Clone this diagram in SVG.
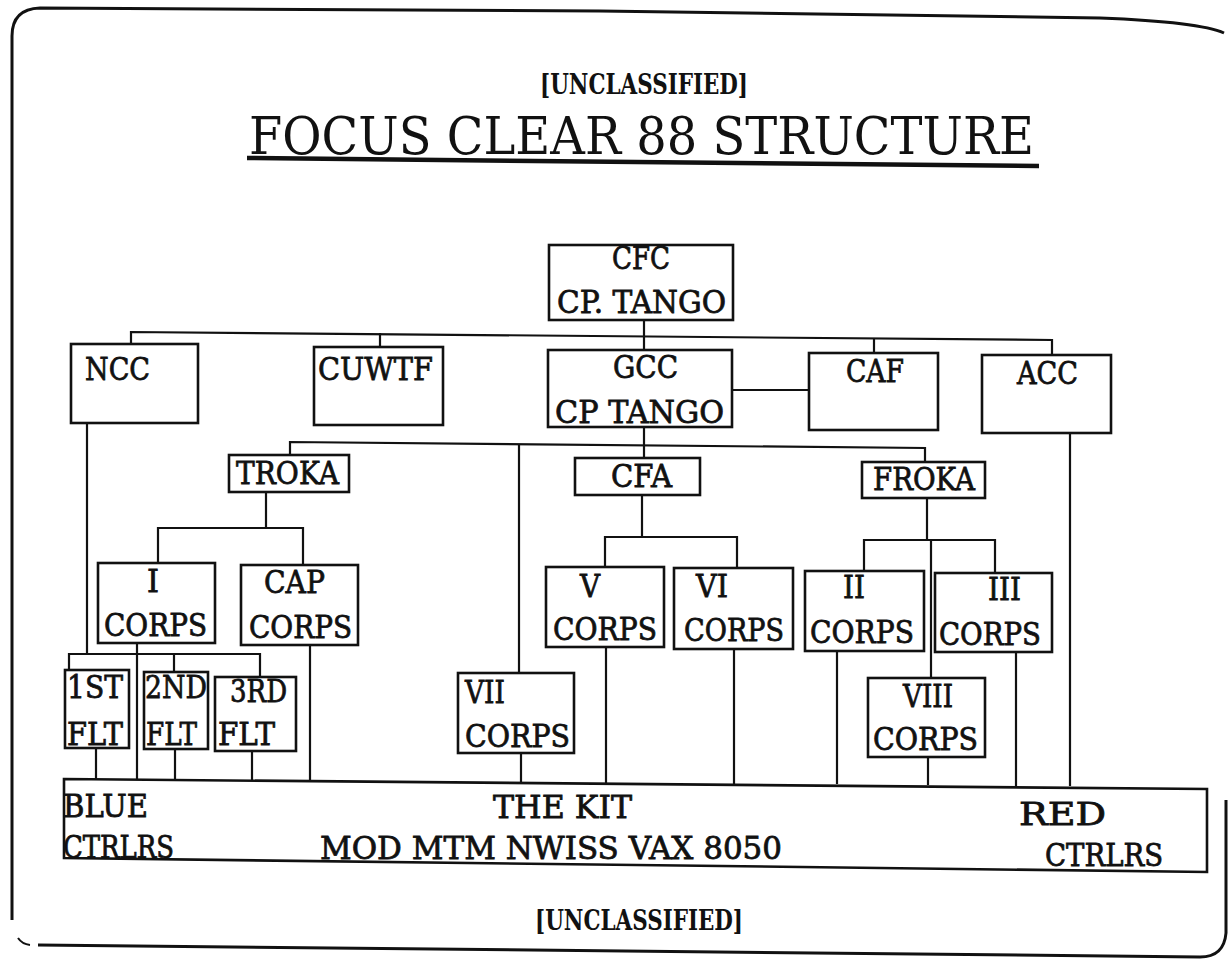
<svg xmlns="http://www.w3.org/2000/svg" width="1228" height="959" viewBox="0 0 1228 959">
<style>
.bx{fill:none;stroke:#111;stroke-width:2.6}
.ln{fill:none;stroke:#111;stroke-width:2.2}
.t{font-family:"DejaVu Serif","Liberation Serif",serif;font-size:32px;fill:#111;stroke:#111;stroke-width:0.8}
.u{font-family:"DejaVu Serif","Liberation Serif",serif;font-size:28px;font-weight:bold;fill:#111}
.ttl{font-family:"DejaVu Serif","Liberation Serif",serif;font-size:53px;fill:#111}
</style>
<rect width="1228" height="959" fill="#fff"/>
<g id="frame">
<path class="ln" style="stroke-width:3" d="M12,920 L12,36 Q12,9 40,8 L600,11 L1100,18 Q1200,22 1224,33"/>
<path class="ln" style="stroke-width:3" d="M38,945 L1200,957 Q1224,957 1226,933 L1226,800"/>
<path class="ln" style="stroke-width:2" d="M18,938 Q22,944 30,945"/>
</g>
<g id="header">
<text class="u" x="540" y="94" textLength="208" lengthAdjust="spacingAndGlyphs">[UNCLASSIFIED]</text>
<text class="ttl" x="249" y="154" textLength="785" lengthAdjust="spacingAndGlyphs">FOCUS CLEAR 88 STRUCTURE</text>
<path d="M247,158 L1039,166" stroke="#111" stroke-width="4.5" fill="none"/>
</g>
<g id="connectors">
<path class="ln" d="M644,320 V350"/>
<path class="ln" d="M131,344 V332 L1052,340 V355"/>
<path class="ln" d="M380,333 V347"/>
<path class="ln" d="M874,339 V353"/>
<path class="ln" d="M732,390 H809"/>
<path class="ln" d="M644,427 V458"/>
<path class="ln" d="M290,455 V442 L925,448 V462"/>
<path class="ln" d="M519,444 V673"/>
<path class="ln" d="M266,492 V528"/>
<path class="ln" d="M158,563 V528 H303 V565"/>
<path class="ln" d="M87,423 V654"/>
<path class="ln" d="M69,670 V654 H260 V677"/>
<path class="ln" d="M174,654 V672"/>
<path class="ln" d="M137,643 V780"/>
<path class="ln" d="M96,748 V780"/>
<path class="ln" d="M175,749 V780"/>
<path class="ln" d="M252,751 V781"/>
<path class="ln" d="M310,645 V781"/>
<path class="ln" d="M521,753 V782"/>
<path class="ln" d="M642,495 V537"/>
<path class="ln" d="M605,567 V537 H737 V568"/>
<path class="ln" d="M606,647 V783"/>
<path class="ln" d="M734,649 V784"/>
<path class="ln" d="M927,498 V540"/>
<path class="ln" d="M864,571 V540 H995 V573"/>
<path class="ln" d="M931,540 V678"/>
<path class="ln" d="M928,757 V785"/>
<path class="ln" d="M837,651 V784"/>
<path class="ln" d="M1016,652 V786"/>
<path class="ln" d="M1070,433 V786"/>
</g>
<g id="cfc"><rect class="bx" x="549" y="245" width="184" height="75"/>
<text class="t" x="612" y="269" textLength="58" lengthAdjust="spacingAndGlyphs">CFC</text>
<text class="t" x="557" y="313" textLength="169" lengthAdjust="spacingAndGlyphs">CP. TANGO</text></g>
<g id="ncc"><rect class="bx" x="71" y="344" width="127" height="79"/>
<text class="t" x="85" y="380" textLength="65" lengthAdjust="spacingAndGlyphs">NCC</text></g>
<g id="cuwtf"><rect class="bx" x="314" y="347" width="129" height="78"/>
<text class="t" x="318" y="380" textLength="115" lengthAdjust="spacingAndGlyphs">CUWTF</text></g>
<g id="gcc"><rect class="bx" x="548" y="350" width="184" height="77"/>
<text class="t" x="613" y="378" textLength="65" lengthAdjust="spacingAndGlyphs">GCC</text>
<text class="t" x="555" y="423" textLength="169" lengthAdjust="spacingAndGlyphs">CP TANGO</text></g>
<g id="caf"><rect class="bx" x="809" y="353" width="129" height="77"/>
<text class="t" x="846" y="382" textLength="58" lengthAdjust="spacingAndGlyphs">CAF</text></g>
<g id="acc"><rect class="bx" x="982" y="355" width="129" height="78"/>
<text class="t" x="1017" y="384" textLength="61" lengthAdjust="spacingAndGlyphs">ACC</text></g>
<g id="troka"><rect class="bx" x="229" y="455" width="120" height="37"/>
<text class="t" x="236" y="484" textLength="103" lengthAdjust="spacingAndGlyphs">TROKA</text></g>
<g id="cfa"><rect class="bx" x="575" y="458" width="125" height="37"/>
<text class="t" x="611" y="487" textLength="61" lengthAdjust="spacingAndGlyphs">CFA</text></g>
<g id="froka"><rect class="bx" x="862" y="462" width="123" height="36"/>
<text class="t" x="873" y="490" textLength="102" lengthAdjust="spacingAndGlyphs">FROKA</text></g>
<g id="icorps"><rect class="bx" x="98" y="563" width="117" height="80"/>
<text class="t" x="147" y="592" textLength="12" lengthAdjust="spacingAndGlyphs">I</text>
<text class="t" x="104" y="636" textLength="103" lengthAdjust="spacingAndGlyphs">CORPS</text></g>
<g id="capcorps"><rect class="bx" x="241" y="565" width="117" height="80"/>
<text class="t" x="264" y="593" textLength="61" lengthAdjust="spacingAndGlyphs">CAP</text>
<text class="t" x="249" y="638" textLength="103" lengthAdjust="spacingAndGlyphs">CORPS</text></g>
<g id="vcorps"><rect class="bx" x="546" y="567" width="118" height="80"/>
<text class="t" x="580" y="597" textLength="20" lengthAdjust="spacingAndGlyphs">V</text>
<text class="t" x="553" y="640" textLength="104" lengthAdjust="spacingAndGlyphs">CORPS</text></g>
<g id="vicorps"><rect class="bx" x="674" y="568" width="119" height="81"/>
<text class="t" x="696" y="597" textLength="32" lengthAdjust="spacingAndGlyphs">VI</text>
<text class="t" x="684" y="641" textLength="100" lengthAdjust="spacingAndGlyphs">CORPS</text></g>
<g id="iicorps"><rect class="bx" x="805" y="571" width="119" height="80"/>
<text class="t" x="843" y="598" textLength="22" lengthAdjust="spacingAndGlyphs">II</text>
<text class="t" x="810" y="643" textLength="104" lengthAdjust="spacingAndGlyphs">CORPS</text></g>
<g id="iiicorps"><rect class="bx" x="935" y="573" width="117" height="79"/>
<text class="t" x="988" y="600" textLength="33" lengthAdjust="spacingAndGlyphs">III</text>
<text class="t" x="939" y="645" textLength="102" lengthAdjust="spacingAndGlyphs">CORPS</text></g>
<g id="flt1"><rect class="bx" x="65" y="670" width="64" height="78"/>
<text class="t" x="67" y="698" textLength="56" lengthAdjust="spacingAndGlyphs">1ST</text>
<text class="t" x="67" y="745" textLength="56" lengthAdjust="spacingAndGlyphs">FLT</text></g>
<g id="flt2"><rect class="bx" x="144" y="672" width="64" height="77"/>
<text class="t" x="145" y="698" textLength="62" lengthAdjust="spacingAndGlyphs">2ND</text>
<text class="t" x="146" y="745" textLength="51" lengthAdjust="spacingAndGlyphs">FLT</text></g>
<g id="flt3"><rect class="bx" x="215" y="677" width="81" height="74"/>
<text class="t" x="230" y="702" textLength="57" lengthAdjust="spacingAndGlyphs">3RD</text>
<text class="t" x="218" y="745" textLength="57" lengthAdjust="spacingAndGlyphs">FLT</text></g>
<g id="viicorps"><rect class="bx" x="458" y="673" width="116" height="80"/>
<text class="t" x="465" y="703" textLength="40" lengthAdjust="spacingAndGlyphs">VII</text>
<text class="t" x="465" y="747" textLength="105" lengthAdjust="spacingAndGlyphs">CORPS</text></g>
<g id="viiicorps"><rect class="bx" x="868" y="678" width="117" height="79"/>
<text class="t" x="903" y="707" textLength="50" lengthAdjust="spacingAndGlyphs">VIII</text>
<text class="t" x="873" y="750" textLength="105" lengthAdjust="spacingAndGlyphs">CORPS</text></g>
<g id="kit">
<path class="bx" d="M64,779 L1207,789 L1207,872 L64,858 Z"/>
<text class="t" x="63" y="817" textLength="85" lengthAdjust="spacingAndGlyphs">BLUE</text>
<text class="t" x="63" y="858" textLength="111" lengthAdjust="spacingAndGlyphs">CTRLRS</text>
<text class="t" x="493" y="818" textLength="139" lengthAdjust="spacingAndGlyphs">THE KIT</text>
<text class="t" x="320" y="859" textLength="462" lengthAdjust="spacingAndGlyphs">MOD MTM NWISS VAX 8050</text>
<text class="t" x="1019" y="825" textLength="87" lengthAdjust="spacingAndGlyphs">RED</text>
<text class="t" x="1045" y="866" textLength="118" lengthAdjust="spacingAndGlyphs">CTRLRS</text>
</g>
<g id="footer">
<text class="u" x="535" y="930" textLength="208" lengthAdjust="spacingAndGlyphs">[UNCLASSIFIED]</text>
</g>
</svg>
